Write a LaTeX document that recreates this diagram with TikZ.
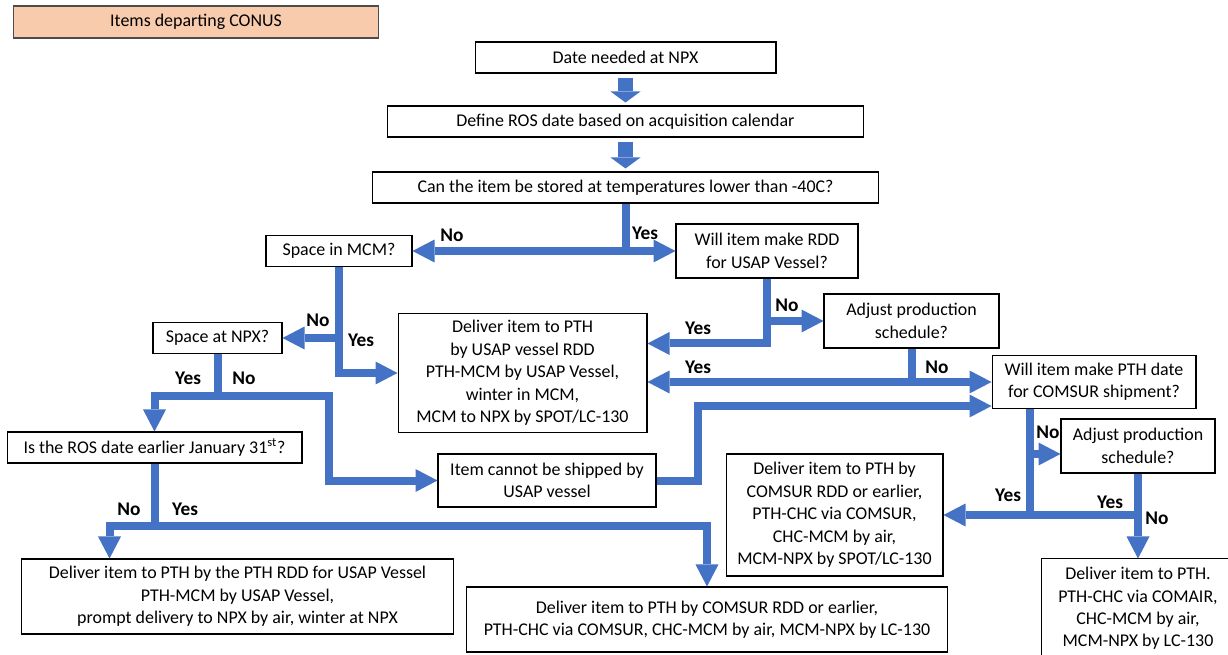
\documentclass[tikz,border=0pt]{standalone}
\usepackage{fontspec}
\setmainfont{Carlito}
\usetikzlibrary{arrows.meta, calc}
\definecolor{flowblue}{HTML}{4472C4}
\definecolor{titlefill}{HTML}{F8CBAD}

\begin{document}
\begin{tikzpicture}[x=0.02cm, y=-0.02cm,
		box/.style={draw=black, line width=0.6pt, fill=white, align=center, inner sep=1pt, font=\fontsize{10.2}{12.75}\selectfont},
		flow/.style={draw=flowblue, line width=0.16cm},
		flowarrow/.style={flow, -{Triangle[length=0.44cm, width=0.46cm, line width=0pt]}},
		blockarrow/.style={draw=flowblue, line width=0.3cm, -{Triangle[length=0.22cm, width=0.6cm, line width=0pt]}, shorten <=0.08cm, shorten >=0.06cm},
		answer/.style={font=\fontsize{11}{13}\selectfont\bfseries, inner sep=0pt}]
		\useasboundingbox (0,0) rectangle (1228,655);
		\node[box, fill=titlefill, draw=black!70, minimum width=7.32cm, minimum height=0.64cm] (title) at (196,22) {Items departing CONUS};
%		
		\node[box, minimum width=6.02cm, minimum height=0.62cm] (date) at (625.5,57.5) {Date needed at NPX};
		\node[box, minimum width=9.54cm, minimum height=0.62cm] (define) at (625.5,121.5) {Define ROS date based on acquisition calendar};
		\node[box, minimum width=10.14cm, minimum height=0.62cm] (can) at (625.5,187.5) {Can the item be stored at temperatures lower than -40C?};
		\node[box, minimum width=2.92cm, minimum height=0.62cm] (mcm) at (339,251) {Space in MCM?};
		\node[box, minimum width=3.64cm, minimum height=1.08cm] (rdd) at (767,251) {Will item make RDD\\for USAP Vessel?};
		\node[box, minimum width=3.5cm, minimum height=1.08cm] (adjA) at (911.5,321) {Adjust production\\schedule?};
		\node[box, minimum width=4.98cm, minimum height=2.38cm] (usap) at (522.5,373) {Deliver item to PTH\\by USAP vessel RDD\\PTH-MCM by USAP Vessel,\\winter in MCM,\\MCM to NPX by SPOT/LC-130};
		\node[box, minimum width=2.58cm, minimum height=0.62cm] (npx) at (217.5,338) {Space at NPX?};
		\node[box, minimum width=4.08cm, minimum height=1.06cm] (pthdate) at (1094,382) {Will item make PTH date\\for COMSUR shipment?};
		\node[box, minimum width=5.9cm, minimum height=0.62cm] (ros) at (154.5,447.5) {Is the ROS date earlier January 31\textsuperscript{st}?};
		\node[box, minimum width=4.36cm, minimum height=1.06cm] (noship) at (547,480.5) {Item cannot be shipped by\\USAP vessel};
		\node[box, minimum width=3.08cm, minimum height=1.08cm] (adjB) at (1138,446) {Adjust production\\schedule?};
		\node[box, minimum width=4.34cm, minimum height=2.44cm] (comsur) at (834.5,515) {Deliver item to PTH by\\COMSUR RDD or earlier,\\PTH-CHC via COMSUR,\\CHC-MCM by air,\\MCM-NPX by SPOT/LC-130};
		\node[box, minimum width=8.66cm, minimum height=1.5cm] (winter) at (237.5,596.5) {Deliver item to PTH by the PTH RDD for USAP Vessel\\PTH-MCM by USAP Vessel,\\prompt delivery to NPX by air, winter at NPX};
		\node[box, minimum width=9.64cm, minimum height=1.3cm] (lc) at (707,619.5) {Deliver item to PTH by COMSUR RDD or earlier,\\PTH-CHC via COMSUR, CHC-MCM by air, MCM-NPX by LC-130};
		\node[box, draw=none, minimum width=3.84cm, minimum height=1.98cm] (comair) at (1138,608.5) {Deliver item to PTH.\\PTH-CHC via COMAIR,\\CHC-MCM by air,\\MCM-NPX by LC-130};
		\draw[black, line width=0.6pt] ($(comair.south west)+(0,10)$) |- ($(comair.north east)+(30,0)$); % runs off the page
%		
		\draw[blockarrow] (date) -- (define);
		\draw[blockarrow] (define) -- (can);
		\draw[flowarrow] (can.south) |- (mcm.east);
		\draw[flowarrow] (can.south) |- (rdd.west);
		\node[answer] (noA) at (452,235) {No};
		\node[answer] (yesA) at (645,233) {Yes};
		\draw[flowarrow] (mcm.south) |- (npx.east);
		\draw[flowarrow] (mcm.south) |- (usap.west);
		\node[answer] (noB) at (318,320) {No};
		\node[answer] (yesB) at (361,340) {Yes};
		\coordinate (usapinA) at ($(usap.north east)+(0,30.5)$);
		\coordinate (usapinB) at ($(usap.east)+(0,9)$);
		\draw[flowarrow] (rdd.south) |- (adjA.west);
		\draw[flowarrow] (rdd.south) |- (usapinA);
		\node[answer] (noC) at (787,305) {No};
		\node[answer] (yesC) at (698,328) {Yes};
		\draw[flowarrow] (adjA.south) |- (pthdate.west);
		\draw[flowarrow] (adjA.south) |- (usapinB);
		\node[answer] (yesD) at (698,367) {Yes};
		\node[answer] (noD) at (937,367) {No};
%		
		\draw[flowarrow] (npx.south) -- ++(0,42) -| (ros.north);
		\draw[flowarrow] (npx.south) -- ++(0,42) -| ($(noship.west)+(-108,0)$) -- (noship.west);
		\node[answer] (yesE) at (188,378) {Yes};
		\node[answer] (noE) at (244,378) {No};
		\draw[flowarrow] (ros.south) -- ++(0,62) -| ($(winter.north west)+(89,0)$);
		\draw[flowarrow] (ros.south) -- ++(0,62) -| (lc.north);
		\node[answer] (noF) at (129,509) {No};
		\node[answer] (yesF) at (185,509) {Yes};
		\draw[flowarrow] (noship.east) -- ++(41,0) |- ($(pthdate.west)+(0,24)$);
%		
		\coordinate (ptout) at ($(pthdate.south west)+(38,0)$);
		\draw[flowarrow] (ptout) |- ($(adjB.west)+(0,8)$);
		\draw[flowarrow] (ptout) |- (comsur.east);
		\draw[flow] (ptout) |- (adjB.south |- comsur.east);
		\draw[flowarrow] (adjB.south) -- (comair.north);
		\node[answer] (noG) at (1048,432) {No};
		\node[answer] (yesG) at (1008,495) {Yes};
		\node[answer] (yesH) at (1110,502) {Yes};
		\node[answer] (noH) at (1157,518) {No};
\end{tikzpicture}
\end{document}
